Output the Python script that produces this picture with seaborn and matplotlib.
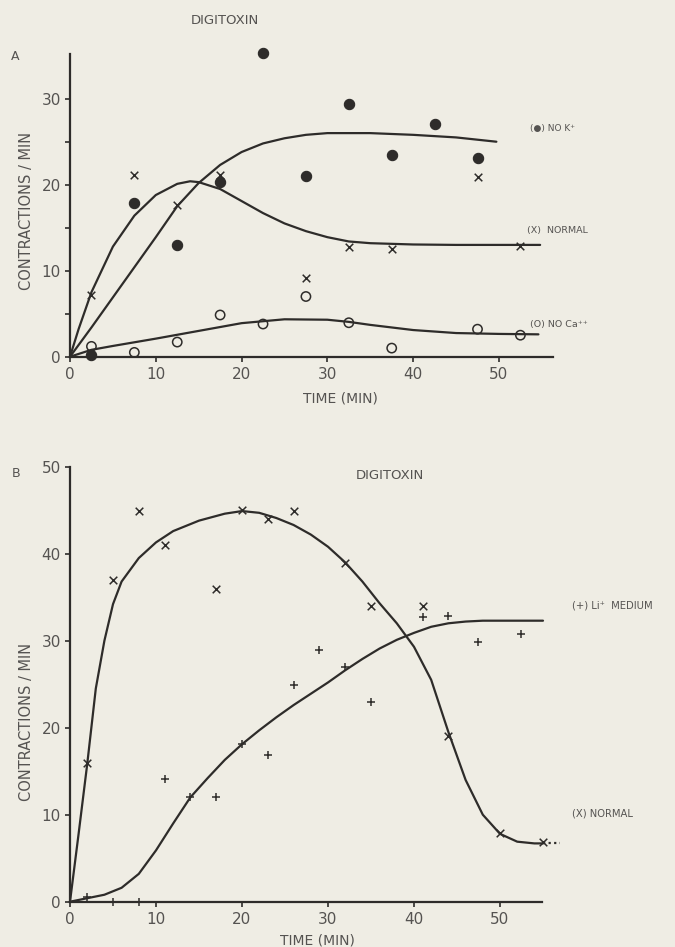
import numpy as np
import pandas as pd
import matplotlib
matplotlib.use("Agg")
import matplotlib.pyplot as plt
import seaborn as sns

# ---------------- Panel A: digitoxin, normal / no K+ / no Ca++ ----------------
a_time = [2.5, 7.5, 12.5, 17.5, 22.5, 27.5, 32.5, 37.5, 42.5, 47.5, 52.5]
a_nok = [0.2, 17.9, 13.0, 20.3, 35.3, 21.0, 29.4, 23.5, 27.1, 23.1, None]
a_normal = [7.2, 21.1, 17.6, 21.1, None, 9.2, 12.8, 12.5, None, 20.9, 12.9]
a_noca = [1.2, 0.5, 1.7, 4.85, 3.8, 7.0, 3.95, 1.0, None, 3.2, 2.5]

# hand-fitted curves, read at the listed times
a_nok_fit_t = [0, 2.5, 5, 7.5, 10, 12.5, 15, 17.5, 20, 22.5, 25, 27.5, 30, 35, 40, 45, 49.7]
a_nok_fit = [0, 3.4, 6.9, 10.4, 13.9, 17.5, 20.2, 22.3, 23.8, 24.8, 25.4, 25.8, 26.0, 26.0, 25.8, 25.5, 25.0]
a_normal_fit_t = [0, 1, 2.5, 5, 7.5, 10, 12.5, 14, 15, 17.5, 20, 22.5, 25, 27.5, 30, 32.5, 35, 40, 45, 50, 54.8]
a_normal_fit = [0, 3.2, 7.5, 12.8, 16.4, 18.8, 20.1, 20.4, 20.3, 19.5, 18.1, 16.7, 15.5, 14.6, 13.9, 13.4, 13.2, 13.05, 13.0, 13.0, 13.0]
a_noca_fit_t = [0, 2.5, 5, 10, 15, 20, 25, 30, 32.5, 35, 40, 45, 50, 54.6]
a_noca_fit = [0, 0.8, 1.25, 2.1, 3.0, 3.9, 4.35, 4.3, 4.05, 3.7, 3.1, 2.75, 2.65, 2.6]

# ---------------- Panel B: digitoxin, normal / Li+ medium ----------------
b_normal_t = [2, 5, 8, 11, 17, 20, 23, 26, 32, 35, 41, 44, 50, 55]
b_normal = [15.9, 37.0, 44.9, 41.0, 36.0, 45.0, 44.0, 44.9, 38.9, 34.0, 34.0, 19.0, 7.9, 6.9]
b_li_t = [2, 5, 8, 11, 14, 17, 20, 23, 26, 29, 32, 35, 41, 44, 47.5, 52.5]
b_li = [0.5, 0.0, 0.0, 14.1, 12.0, 12.0, 18.1, 16.9, 24.9, 28.9, 27.0, 22.9, 32.7, 32.8, 29.9, 30.8]

b_normal_fit_t = [0, 1, 2, 3, 4, 5, 6, 8, 10, 12, 15, 18, 20, 22, 24, 26, 28, 30, 32, 34, 36, 38,
                  40, 42, 44, 46, 48, 50, 52, 54, 55]
b_normal_fit = [0, 7.8, 15.8, 24.5, 30.0, 34.2, 36.8, 39.5, 41.3, 42.6, 43.8, 44.6, 44.9, 44.7, 44.1,
                43.3, 42.2, 40.8, 39.0, 36.8, 34.3, 32.0, 29.3, 25.5, 19.5, 14.0, 10.0, 7.8, 6.9, 6.7, 6.7]
b_normal_tail_t = [55, 57]
b_normal_tail = [6.7, 6.7]
b_li_fit_t = [0, 2, 4, 6, 8, 10, 12, 14, 16, 18, 20, 22, 24, 26, 28, 30, 32, 34, 36, 38, 40, 42, 44,
              46, 48, 50, 55]
b_li_fit = [0, 0.4, 0.8, 1.6, 3.2, 5.9, 9.0, 12.0, 14.2, 16.3, 18.1, 19.7, 21.2, 22.6, 23.9, 25.2,
            26.6, 27.9, 29.1, 30.1, 30.9, 31.6, 32.0, 32.2, 32.3, 32.3, 32.3]

PAPER = "#efede4"
INK = "#2e2c2a"
TEXT = "#555351"

sns.set_style("ticks", {"axes.facecolor": PAPER, "figure.facecolor": PAPER})
plt.rcParams["font.family"] = ["DejaVu Sans"]

W, H = 675, 947
fig = plt.figure(figsize=(W / 100, H / 100), dpi=100)


def add_axes(x0, x1, y_bottom, y_top):
    return fig.add_axes([x0 / W, 1 - y_bottom / H, (x1 - x0) / W, (y_bottom - y_top) / H])


def ftext(x, y, s, **kw):
    kw.setdefault("color", TEXT)
    fig.text(x / W, 1 - y / H, s, **kw)


def style_axes(ax, xmax, ymax, yticks, yminor=None):
    ax.set_xlim(0, xmax)
    ax.set_ylim(0, ymax)
    ax.set_xticks([0, 10, 20, 30, 40, 50])
    ax.set_yticks(yticks)
    if yminor is not None:
        ax.set_yticks(yminor, minor=True)
    ax.set_xticklabels(["0", "10", "20", "30", "40", "50"])
    ax.set_yticklabels([str(v) for v in yticks])
    for side in ("top", "right"):
        ax.spines[side].set_visible(False)
    for side in ("left", "bottom"):
        ax.spines[side].set_color(INK)
        ax.spines[side].set_linewidth(1.6)
    ax.spines["left"].set_bounds(0, ymax)
    ax.tick_params(which="both", direction="out", length=3.5, width=1.2, color=INK,
                   labelsize=11, labelcolor=TEXT, pad=3)
    ax.tick_params(axis="x", pad=4)
    ax.set_facecolor(PAPER)
    ax.patch.set_alpha(0)


def curve(ax, t, v, **kw):
    df = pd.DataFrame({"t": t, "v": v})
    sns.lineplot(data=df, x="t", y="v", ax=ax, sort=False, estimator=None,
                 color=INK, linewidth=1.6, clip_on=False, **kw)


def points(ax, t, v, marker, **kw):
    df = pd.DataFrame({"t": t, "v": v}).dropna()
    sns.scatterplot(data=df, x="t", y="v", ax=ax, marker=marker, zorder=3, clip_on=False, **kw)


# ---------------- Panel A ----------------
axA = add_axes(70, 553, 356.7, 54)
curve(axA, a_nok_fit_t, a_nok_fit)
curve(axA, a_normal_fit_t, a_normal_fit)
curve(axA, a_noca_fit_t, a_noca_fit)
points(axA, a_time, a_nok, "o", s=55, color=INK, edgecolor=INK, linewidth=0.8)
points(axA, a_time, a_normal, "x", s=30, color=INK, linewidth=1.1)
points(axA, a_time, a_noca, "o", s=45, facecolor="none", edgecolor=INK, linewidth=1.1)
style_axes(axA, 56.3, 35.2, [0, 10, 20, 30], [5, 15, 25])
axA.set_xlabel("TIME (MIN)", fontsize=10, color=TEXT)
axA.xaxis.set_label_coords(340 / W, 1 - 391 / H, transform=fig.transFigure)
axA.set_ylabel("CONTRACTIONS / MIN", fontsize=10.5, color=TEXT)
axA.yaxis.set_label_coords(34 / W, 1 - 211 / H, transform=fig.transFigure)

ftext(225, 20, "DIGITOXIN", fontsize=9.5, ha="center", va="center")
ftext(15, 57, "A", fontsize=9, ha="center", va="center")
ftext(530, 128, "(\u25cf) NO K\u207a", fontsize=6.5, ha="left", va="center")
ftext(527, 230, "(X)  NORMAL", fontsize=6.8, ha="left", va="center")
ftext(530, 325, "(O) NO Ca\u207a\u207a", fontsize=6.8, ha="left", va="center")

# ---------------- Panel B ----------------
axB = add_axes(70, 541.7, 901.7, 466.7)
curve(axB, b_normal_fit_t, b_normal_fit)
curve(axB, b_normal_tail_t, b_normal_tail, linestyle=(0, (1, 1.5)))
curve(axB, b_li_fit_t, b_li_fit)
points(axB, b_normal_t, b_normal, "x", s=30, color=INK, linewidth=1.1)
points(axB, b_li_t, b_li, "+", s=38, color=INK, linewidth=1.1)
style_axes(axB, 54.85, 50, [0, 10, 20, 30, 40, 50])
axB.set_xlabel("TIME (MIN)", fontsize=10, color=TEXT)
axB.xaxis.set_label_coords(317 / W, 1 - 933 / H, transform=fig.transFigure)
axB.set_ylabel("CONTRACTIONS / MIN", fontsize=10.5, color=TEXT)
axB.yaxis.set_label_coords(34 / W, 1 - 722 / H, transform=fig.transFigure)

ftext(390, 475, "DIGITOXIN", fontsize=9.5, ha="center", va="center")
ftext(16, 473, "B", fontsize=9, ha="center", va="center")
ftext(572, 606, "(+) Li\u207a  MEDIUM", fontsize=7.2, ha="left", va="center")
ftext(572, 813, "(X) NORMAL", fontsize=7.2, ha="left", va="center")

fig.savefig("out.png", dpi=100, facecolor=PAPER)
